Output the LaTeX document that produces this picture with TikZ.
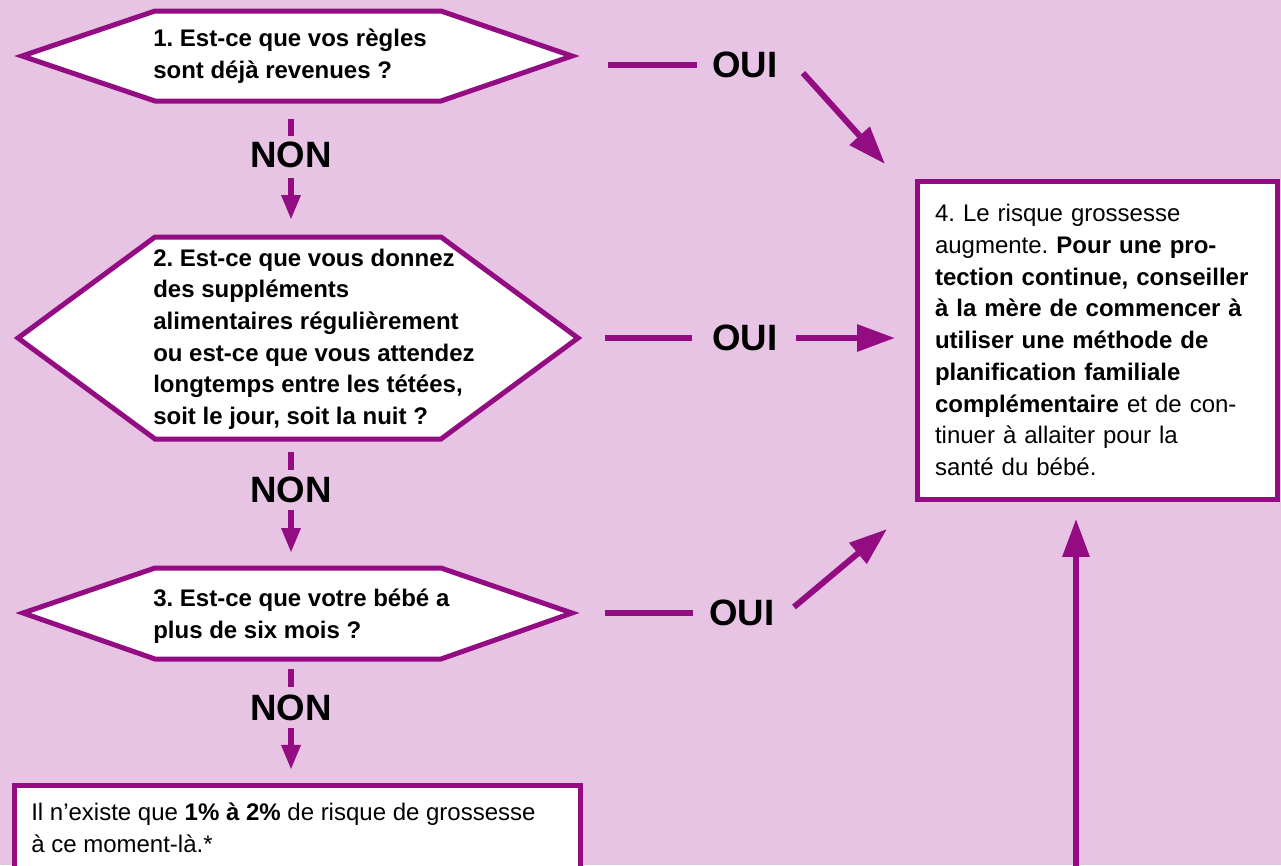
\documentclass[tikz,border=0pt]{standalone}
\usepackage{fontspec}
\setmainfont{Liberation Sans}
\usetikzlibrary{arrows.meta}
\definecolor{plum}{RGB}{148,12,130}
\definecolor{lilac}{RGB}{232,196,228}
\frenchspacing
\tikzset{
  hexline/.style={draw=plum, line width=3.75pt, fill=white, line join=miter},
  question/.style={anchor=west, inner sep=0pt, align=left, font=\fontsize{18}{23.7}\selectfont\bfseries},
  answer/.style={inner sep=0pt, font=\fontsize{27.5}{32}\selectfont\bfseries},
  stub/.style={draw=plum, line width=4.5pt},
  smallarrow/.style={stub, -{Triangle[length=18.75pt, width=13.5pt]}},
  bigarrow/.style={stub, -{Triangle[length=28.5pt, width=19.5pt]}},
  infobox/.style={draw=plum, line width=3.75pt, fill=white, anchor=north west},
  boxtext/.style={align=left, font=\fontsize{18}{23.8}\selectfont}
}
\begin{document}
\begin{tikzpicture}[x=0.75pt,y=0.75pt,yscale=-1,xscale=1]
            % Background
            \useasboundingbox (0,0) rectangle (1281,865);
            \fill[lilac] (0,0) rectangle (1281,865);
            %Shape: Hexagons
            \draw[hexline] (22,56) -- (155,11) -- (441,11) -- (572,56) -- (441,101) -- (155,101) -- cycle;
            \draw[hexline] (18,338) -- (155,237) -- (441,237) -- (578,338) -- (441,439) -- (155,439) -- cycle;
            \draw[hexline] (23,613) -- (155,568) -- (441,568) -- (572,613) -- (441,659) -- (155,659) -- cycle;
            \coordinate (h1s) at (291,101);
            \coordinate (h1e) at (572,56);
            \coordinate (h2n) at (291,237);
            \coordinate (h2s) at (291,439);
            \coordinate (h2e) at (578,338);
            \coordinate (h3n) at (291,568);
            \coordinate (h3s) at (291,659);
            \coordinate (h3e) at (572,613);

            % Text Node
            \node[question] (q1) at (153,56) {1. Est-ce que vos règles\\sont déjà revenues ?};
            % Text Node
            \node[question] (q2) at (153,339) {2. Est-ce que vous donnez\\des suppléments\\alimentaires régulièrement\\ou est-ce que vous attendez\\longtemps entre les tétées,\\soit le jour, soit la nuit ?};
            % Text Node
            \node[question] (q3) at (153,616) {3. Est-ce que votre bébé a\\plus de six mois ?};

            % Boxes
            \node[infobox, boxtext, minimum width=270pt, minimum height=238.5pt, text width=243pt, inner xsep=13.5pt] (risk) at (914.5,178.5) {4. Le risque grossesse\\augmente. \textbf{Pour une pro-}\\\textbf{tection continue, conseiller}\\\textbf{à la mère de commencer à}\\\textbf{utiliser une méthode de}\\\textbf{planification familiale}\\\textbf{complémentaire} et de con-\\tinuer à allaiter pour la\\santé du bébé.};
            \node[infobox, minimum width=424.5pt, minimum height=120pt] (low) at (11.5,782.5) {};
            \node[boxtext, anchor=west, inner sep=0pt] (lowtxt) at (31,827.5) {Il n’existe que \textbf{1\% à 2\%} de risque de grossesse\\à ce moment-là.*};

            % Answers
            \node[answer] (n1) at (291,155) {NON};
            \node[answer] (n2) at (291,490) {NON};
            \node[answer] (n3) at (291,708) {NON};
            \node[answer] (o1) at (745,65) {OUI};
            \node[answer] (o2) at (745,338) {OUI};
            \node[answer] (o3) at (742,613) {OUI};

            %Straight Lines: NON
            \draw[stub, shorten <=13.5pt, shorten >=4.5pt] (h1s) -- (n1);
            \draw[smallarrow, shorten <=7.5pt, shorten >=12.75pt] (n1) -- (h2n);
            \draw[stub, shorten <=9.75pt, shorten >=5.25pt] (h2s) -- (n2);
            \draw[smallarrow, shorten <=5.25pt, shorten >=11.25pt] (n2) -- (h3n);
            \draw[stub, shorten <=7.5pt, shorten >=6pt] (h3s) -- (n3);
            \draw[smallarrow, shorten <=5.25pt, shorten >=9.4pt] (n3) -- (n3 |- low.north);

            %Straight Lines: OUI
            \draw[stub, shorten <=27pt, shorten >=11.25pt] (h1e |- o1) -- (o1);
            \draw[stub, shorten <=20pt, shorten >=15pt] (h2e |- o2) -- (o2);
            \draw[stub, shorten <=25pt, shorten >=12pt] (h3e |- o3) -- (o3);
            \coordinate (s1) at (803,73);
            \coordinate (t1) at (885,164);
            \draw[bigarrow] (s1) -- (t1);
            \draw[bigarrow, shorten <=13.5pt, shorten >=14.6pt] (o2) -- (o2 -| risk.west);
            \coordinate (s3) at (794,607);
            \coordinate (t3) at (887,529);
            \draw[bigarrow] (s3) -- (t3);
            \coordinate (up) at (1076,880);
            \draw[bigarrow, shorten >=13pt] (up) -- (up |- risk.south);
\end{tikzpicture}
\end{document}
